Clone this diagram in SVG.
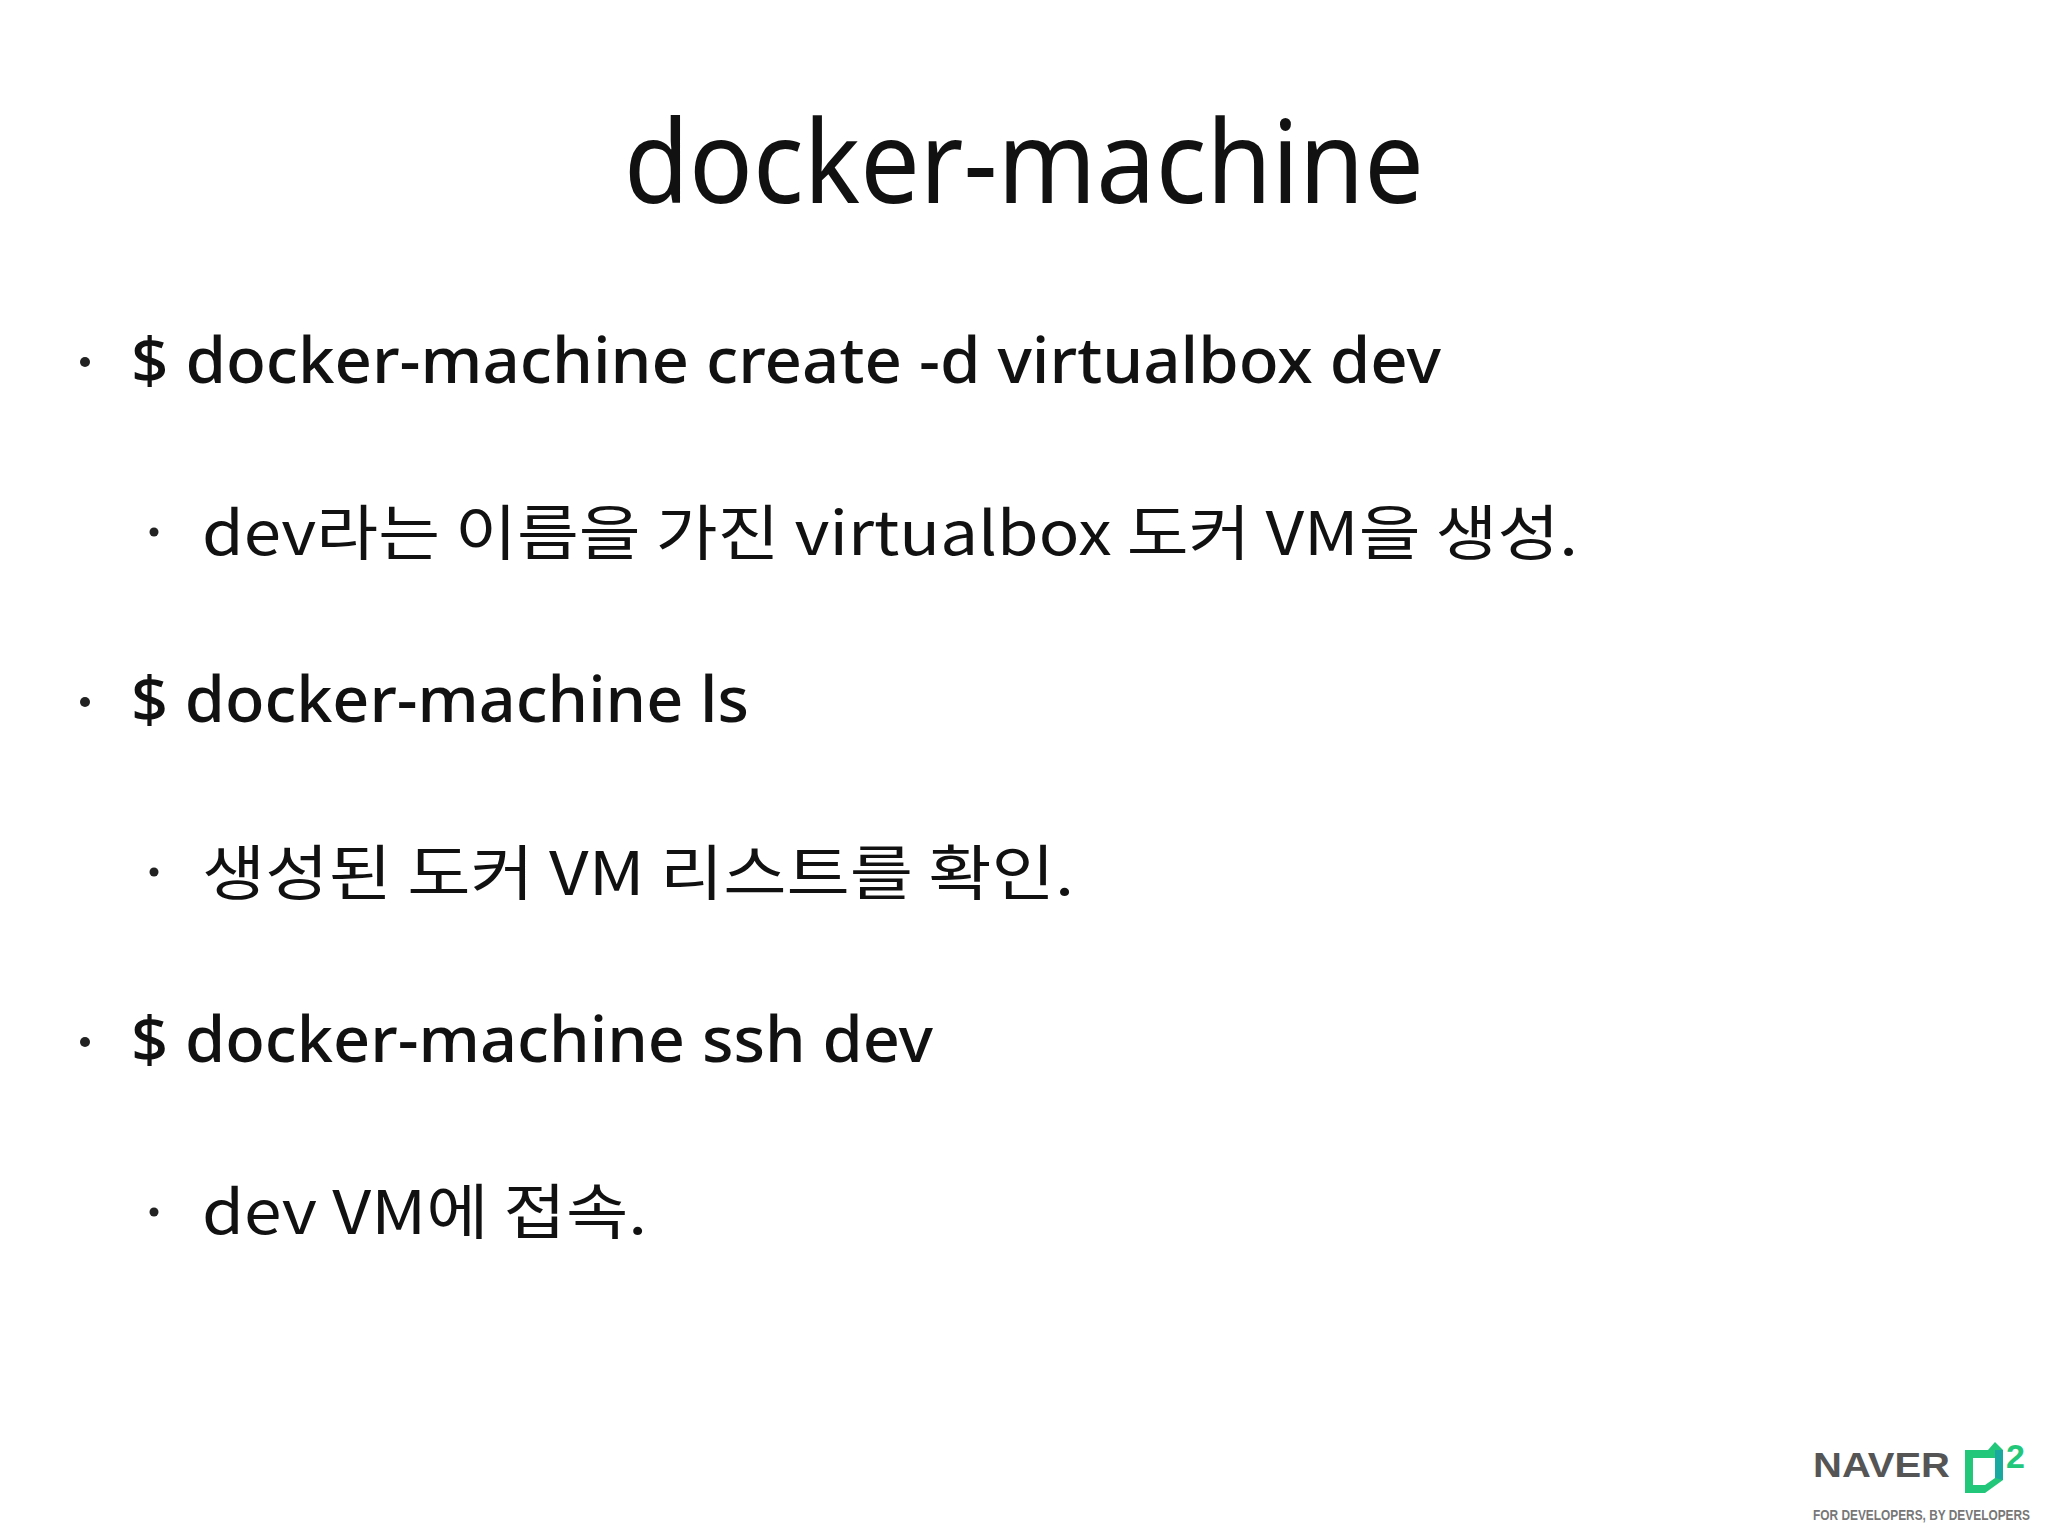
<svg xmlns="http://www.w3.org/2000/svg" width="2048" height="1536" viewBox="0 0 2048 1536">
<style>
.t{font-family:"Noto Sans","Noto Sans CJK KR",sans-serif;fill:#111}
.cmd{font-size:64px;font-weight:500}
.sub{font-size:60px;font-family:"Noto Sans CJK KR","Noto Sans",sans-serif;fill:#111}
.dot{fill:#222}
</style>
<rect width="2048" height="1536" fill="#fff"/>
<text class="t" x="1024" y="203" font-size="116" text-anchor="middle" textLength="800" lengthAdjust="spacingAndGlyphs">docker-machine</text>
<g id="b1"><circle class="dot" cx="85" cy="362" r="5"/><text class="t cmd" x="131" y="383" textLength="1310" lengthAdjust="spacingAndGlyphs">$ docker-machine create -d virtualbox dev</text></g>
<g id="b1s"><circle class="dot" cx="154" cy="532" r="4.5"/><text class="sub" x="202" y="555" textLength="1376" lengthAdjust="spacingAndGlyphs">dev라는 이름을 가진 virtualbox 도커 VM을 생성.</text></g>
<g id="b2"><circle class="dot" cx="85" cy="702" r="5"/><text class="t cmd" x="131" y="722" textLength="618" lengthAdjust="spacingAndGlyphs">$ docker-machine ls</text></g>
<g id="b2s"><circle class="dot" cx="154" cy="872" r="4.5"/><text class="sub" x="202" y="895" textLength="872" lengthAdjust="spacingAndGlyphs">생성된 도커 VM 리스트를 확인.</text></g>
<g id="b3"><circle class="dot" cx="85" cy="1042" r="5"/><text class="t cmd" x="131" y="1062" textLength="802" lengthAdjust="spacingAndGlyphs">$ docker-machine ssh dev</text></g>
<g id="b3s"><circle class="dot" cx="154" cy="1212" r="4.5"/><text class="sub" x="202" y="1234" textLength="445" lengthAdjust="spacingAndGlyphs">dev VM에 접속.</text></g>
<g id="logo">
<text x="1813" y="1477" font-family="Liberation Sans,sans-serif" font-weight="bold" font-size="35" fill="#555" textLength="137" lengthAdjust="spacingAndGlyphs">NAVER</text>
<path d="M1965 1450 L1988 1450 L1995 1442 L2003 1450 L2003 1480 L1985 1493 L1965 1493 Z M1973 1458 L1973 1485 L1985 1485 L1995 1478 L1995 1458 Z" fill="#22c77a" fill-rule="evenodd"/>
<path d="M1995 1450 L2003 1450 L2003 1480 L1995 1478 Z" fill="#1aa9a0"/>
<text x="2006" y="1468" font-family="Liberation Sans,sans-serif" font-weight="bold" font-size="34" fill="#22c77a">2</text>
<text x="1813" y="1520" font-family="Liberation Sans,sans-serif" font-weight="bold" font-size="15" fill="#777" textLength="217" lengthAdjust="spacingAndGlyphs">FOR DEVELOPERS, BY DEVELOPERS</text>
</g>
</svg>
